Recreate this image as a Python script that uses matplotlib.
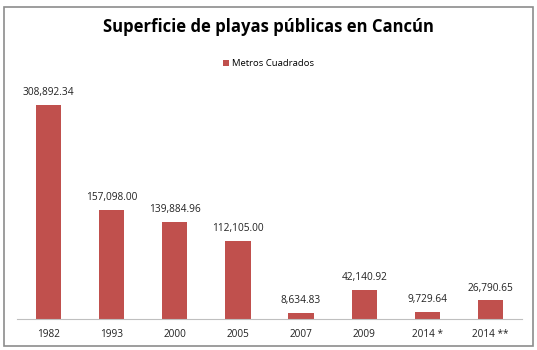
import matplotlib.pyplot as plt
from matplotlib.patches import Rectangle

years = ["1982", "1993", "2000", "2005", "2007", "2009", "2014 *", "2014 **"]
metros = [308892.34, 157098.00, 139884.96, 112105.00, 8634.83, 42140.92, 9729.64, 26790.65]

W, H = 537, 350
fig = plt.figure(figsize=(W / 100, H / 100), dpi=100)
plt.rcParams['font.family'] = ['Open Sans', 'DejaVu Sans']

# grey frame around the whole chart
fig.patches.append(Rectangle((4 / W, 4 / H), 529 / W, 339 / H, transform=fig.transFigure,
                             fill=False, edgecolor='#8c8c8c', linewidth=1.2))

ymax = 350000
bottom_px = 319
top_px = bottom_px - ymax * 214 / 308892.34
ax = fig.add_axes([17 / W, 1 - bottom_px / H, (522 - 17) / W, (bottom_px - top_px) / H])

x = range(len(years))
bars = ax.bar(x, metros, width=0.4, color='#C0504D', label='Metros Cuadrados')
ax.set_xlim(-0.5, len(years) - 0.5)
ax.set_ylim(0, ymax)

for xi, v in zip(x, metros):
    ax.text(xi, v + 10000, f"{v:,.2f}", ha='center', va='bottom', fontsize=7.3, color='#222222')

ax.set_xticks(list(x))
ax.set_xticklabels(years, fontsize=7.2, color='#222222')
ax.tick_params(axis='x', length=0, pad=7)
ax.set_yticks([])
for s in ['top', 'right', 'left']:
    ax.spines[s].set_visible(False)
ax.spines['bottom'].set_color('#bfbfbf')

fig.text(0.5, 1 - 27 / H, "Superficie de playas públicas en Cancún", ha='center', va='center',
         fontsize=12, fontweight='bold', color='black')
fig.legend(handles=[bars], labels=['Metros Cuadrados'], loc='center', bbox_to_anchor=(0.5, 1 - 64 / H),
           frameon=False, fontsize=6.8, handlelength=0.6, handleheight=0.6, handletextpad=0.3)

fig.savefig("out.png", dpi=100)
